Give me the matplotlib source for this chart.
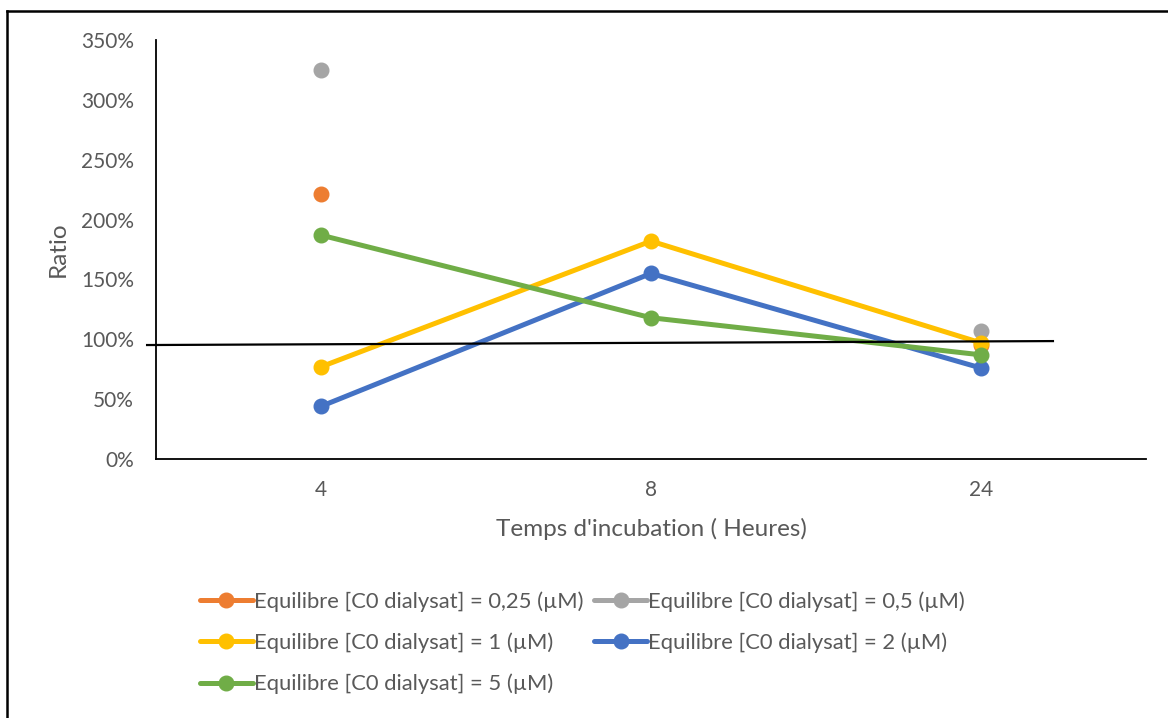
import numpy as np
import matplotlib
matplotlib.use("Agg")
import matplotlib.pyplot as plt
from matplotlib.ticker import FuncFormatter, MultipleLocator
from matplotlib.lines import Line2D

plt.rcParams['font.family'] = ['Lato', 'DejaVu Sans']

# Data
hours = ["4", "8", "24"]
ratio_025 = [221, np.nan, 95]
ratio_05 = [325, np.nan, 107]
ratio_1 = [77, 182, 97]
ratio_2 = [44, 155, 76]
ratio_5 = [187, 118, 87]

labels = [
    "Equilibre [C0 dialysat] = 0,25 (µM)",
    "Equilibre [C0 dialysat] = 0,5 (µM)",
    "Equilibre [C0 dialysat] = 1 (µM)",
    "Equilibre [C0 dialysat] = 2 (µM)",
    "Equilibre [C0 dialysat] = 5 (µM)",
]
colors = ["#ED7D31", "#A5A5A5", "#FFC000", "#4472C4", "#70AD47"]
series = [ratio_025, ratio_05, ratio_1, ratio_2, ratio_5]

# Reference line (hand-placed, in category/percent units)
ref_x = [-0.527, 2.218]
ref_y = [95.2, 98.5]

TXT = "#595959"

fig = plt.figure(figsize=(11.68, 7.18), dpi=100)
ax = fig.add_axes([156 / 1168, 1 - 459 / 718, (1146 - 156) / 1168, (459 - 40) / 718])

x = np.arange(len(hours))
handles = []
for vals, lab, col in zip(series, labels, colors):
    h, = ax.plot(x, vals, color=col, lw=3.6, marker='o', markersize=10.5,
                 solid_capstyle='round', label=lab, clip_on=False)
    handles.append(h)

ax.plot(ref_x, ref_y, color='black', lw=1.6, clip_on=False, zorder=5)

ax.set_xlim(-0.5, 2.5)
ax.set_ylim(0, 350)
ax.set_xticks(x)
ax.set_xticklabels(hours)
ax.yaxis.set_major_locator(MultipleLocator(50))
ax.yaxis.set_major_formatter(FuncFormatter(lambda v, p: f"{v:.0f}%"))
ax.tick_params(axis='both', length=0, labelsize=15, colors=TXT)
ax.tick_params(axis='y', pad=16)
ax.tick_params(axis='x', pad=15)

for s in ['top', 'right']:
    ax.spines[s].set_visible(False)
for s in ['left', 'bottom']:
    ax.spines[s].set_color('black')
    ax.spines[s].set_linewidth(1.3)

ax.set_xlabel("Temps d'incubation ( Heures)", fontsize=17.5, color=TXT, labelpad=13)
ax.set_ylabel("Ratio", fontsize=17.5, color=TXT, labelpad=9)

# Legend: first column 0,25 / 1 / 5, second column 0,5 / 2
order = [0, 2, 4, 1, 3]
leg = fig.legend([handles[i] for i in order], [labels[i] for i in order],
                 ncol=2, loc='upper left', bbox_to_anchor=(189 / 1168, 1 - 580 / 718),
                 frameon=False, fontsize=15.8, handlelength=2.4, handletextpad=0.05,
                 columnspacing=0.5, labelspacing=0.95, borderpad=0)
for t in leg.get_texts():
    t.set_color(TXT)

# Outer frame (top and left edges)
fig.add_artist(Line2D([7 / 1168, 1.01], [1 - 10.5 / 718] * 2, transform=fig.transFigure,
                      color='black', lw=1.8))
fig.add_artist(Line2D([7 / 1168] * 2, [-0.01, 1 - 10.5 / 718], transform=fig.transFigure,
                      color='black', lw=1.8))

fig.savefig("out.png", dpi=100)
